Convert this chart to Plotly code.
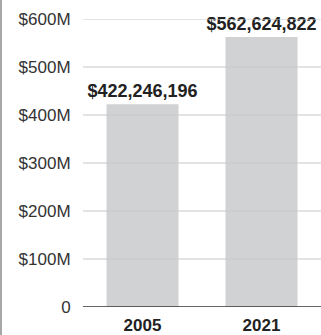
import plotly.graph_objects as go

# Data
years = ["2005", "2021"]
amounts = [422246196, 562624822]
tick_vals = [0, 100e6, 200e6, 300e6, 400e6, 500e6, 600e6]
tick_text = ["0", "$100M", "$200M", "$300M", "$400M", "$500M", "$600M"]

FONT = "Liberation Sans, Arial, Helvetica, sans-serif"
W, H = 321, 335
M_L, M_R, M_T, M_B = 83, 0, 19, 28

fig = go.Figure()
fig.add_trace(go.Bar(
    x=years,
    y=amounts,
    marker=dict(color="#d1d2d4", line=dict(width=0)),
    text=[f"${v:,}" for v in amounts],
    textposition="outside",
    constraintext="none",
    textfont=dict(family=FONT, size=18, color="#222222", weight="bold"),
    cliponaxis=False,
    hoverinfo="skip",
))

# Gridlines drawn on top of the bars
shapes = []
for v in tick_vals[1:]:
    shapes.append(dict(type="line", xref="paper", yref="y", x0=0, x1=1, y0=v, y1=v,
                       line=dict(color="#c8c8c8", width=1), layer="above"))
# Baseline
shapes.append(dict(type="line", xref="paper", yref="y", x0=0, x1=1, y0=0, y1=0,
                   line=dict(color="#333333", width=1.5), layer="above"))
# Left frame edge
plot_w = W - M_L - M_R
shapes.append(dict(type="line", xref="paper", yref="paper",
                   x0=(1 - M_L) / plot_w, x1=(1 - M_L) / plot_w,
                   y0=-M_B / (H - M_T - M_B), y1=(H - M_T) / (H - M_T - M_B),
                   line=dict(color="#8a8a8a", width=1.5), layer="above"))

fig.update_layout(
    width=W, height=H,
    margin=dict(l=M_L, r=M_R, t=M_T, b=M_B, pad=0),
    paper_bgcolor="white", plot_bgcolor="white",
    bargap=0.395,
    showlegend=False,
    shapes=shapes,
    font=dict(family=FONT),
)
fig.update_xaxes(
    type="category",
    showgrid=False, showline=False, zeroline=False,
    ticks="outside", ticklen=3, tickcolor="rgba(0,0,0,0)",
    tickfont=dict(family=FONT, size=17, color="#222222", weight="bold"),
    automargin=False,
)
fig.update_yaxes(
    range=[0, 600e6],
    tickvals=tick_vals, ticktext=tick_text,
    showgrid=False, zeroline=False, showline=False,
    ticks="outside", ticklen=8, tickcolor="rgba(0,0,0,0)",
    tickfont=dict(family=FONT, size=17, color="#333333"),
    automargin=False,
)

fig.write_html("out.html")
